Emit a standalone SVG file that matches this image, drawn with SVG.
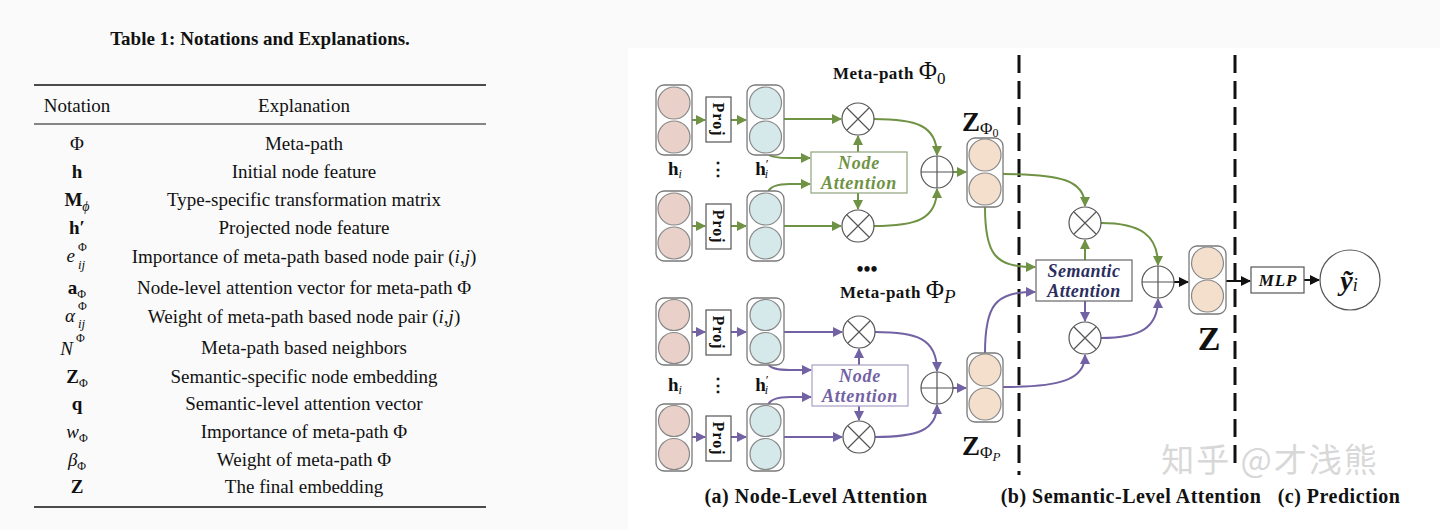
<svg xmlns="http://www.w3.org/2000/svg" width="1440" height="530" viewBox="0 0 1440 530">
<style>
text{font-family:"Liberation Serif","Times New Roman",serif;fill:#111}
.tb{font-size:19px}
.b{font-weight:bold}
.i{font-style:italic}
.nd{fill:#fff;stroke:#7a7a7a;stroke-width:1.3}
.pk{fill:#e9d1c9;stroke:#888;stroke-width:1.2}
.bl{fill:#d5e8ea;stroke:#888;stroke-width:1.2}
.pc{fill:#f4dfcd;stroke:#888;stroke-width:1.2}
.op{fill:#fff;stroke:#555;stroke-width:1.2}
.opl{stroke:#555;stroke-width:1.2}
.proj{fill:#fff;stroke:#555;stroke-width:1.2}
.g{fill:none;stroke:#6f9244;stroke-width:2}
.p{fill:none;stroke:#7262a3;stroke-width:2}
.k{fill:none;stroke:#111;stroke-width:2}
.dash{stroke:#111;stroke-width:3;stroke-dasharray:18 8}
.ga{fill:#fff;stroke:#8fa27a;stroke-width:1.2}
.pa{fill:#fff;stroke:#aaa0c6;stroke-width:1.2}
.sa{fill:#fff;stroke:#666;stroke-width:1.2}
.att{font-size:18px;font-weight:bold;font-style:italic;text-anchor:middle;letter-spacing:0.8px}
.mp{font-size:17px;font-weight:bold;letter-spacing:0.5px}
.cap{font-size:20px;font-weight:bold;letter-spacing:0.5px}
.pj{font-size:16px;font-weight:bold;letter-spacing:1px}
</style>
<defs>
<marker id="ag" viewBox="0 0 10 10" refX="9" refY="5" markerWidth="5" markerHeight="5" orient="auto"><path d="M0,0 L10,5 L0,10 z" fill="#6f9244"/></marker>
<marker id="ap" viewBox="0 0 10 10" refX="9" refY="5" markerWidth="5" markerHeight="5" orient="auto"><path d="M0,0 L10,5 L0,10 z" fill="#7262a3"/></marker>
<marker id="ak" viewBox="0 0 10 10" refX="9" refY="5" markerWidth="5" markerHeight="5" orient="auto"><path d="M0,0 L10,5 L0,10 z" fill="#111"/></marker>
<g id="otimes"><circle r="16" class="op"/><path d="M-11,-11 L11,11 M11,-11 L-11,11" class="opl"/></g>
<g id="oplus"><circle r="16" class="op"/><path d="M-16,0 L16,0 M0,-16 L0,16" class="opl"/></g>
</defs>
<rect width="1440" height="530" fill="#fafafa"/>
<rect x="628" y="48" width="812" height="482" fill="#ffffff"/>

<!-- Table -->
<g id="table">
<text x="260" y="45" text-anchor="middle" class="b" font-size="19">Table 1: Notations and Explanations.</text>
<line x1="34" y1="85" x2="486" y2="85" stroke="#111" stroke-width="1.6"/>
<line x1="34" y1="124" x2="486" y2="124" stroke="#111" stroke-width="1"/>
<line x1="34" y1="507" x2="486" y2="507" stroke="#111" stroke-width="1.6"/>
<text x="77" y="112" class="tb" text-anchor="middle">Notation</text>
<text x="304" y="112" class="tb" text-anchor="middle">Explanation</text>
<g text-anchor="middle">
<text x="77" y="150" class="tb">Φ</text>
<text x="77" y="178" class="tb b">h</text>
<text x="77" y="206" class="tb"><tspan class="b">M</tspan><tspan class="i" font-size="14" dy="5">ϕ</tspan></text>
<text x="77" y="234" class="tb b">h′</text>
<text x="75" y="262" class="tb i" text-anchor="end">e</text>
<text x="78" y="251" font-size="12" text-anchor="start">Φ</text>
<text x="78" y="269" class="i" font-size="13" text-anchor="start">ij</text>
<text x="77" y="294" class="tb"><tspan class="b">a</tspan><tspan font-size="12" dy="4">Φ</tspan></text>
<text x="75" y="322" class="tb i" text-anchor="end">α</text>
<text x="78" y="310" font-size="12" text-anchor="start">Φ</text>
<text x="78" y="328" class="i" font-size="13" text-anchor="start">ij</text>
<text x="73" y="355" class="tb i" text-anchor="end">N</text>
<text x="76" y="342" font-size="12" text-anchor="start">Φ</text>
<text x="77" y="383" class="tb"><tspan class="b">Z</tspan><tspan font-size="12" dy="4">Φ</tspan></text>
<text x="77" y="410" class="tb b">q</text>
<text x="77" y="438" class="tb"><tspan class="i">w</tspan><tspan font-size="12" dy="4">Φ</tspan></text>
<text x="77" y="466" class="tb"><tspan class="i">β</tspan><tspan font-size="12" dy="4">Φ</tspan></text>
<text x="77" y="493" class="tb b">Z</text>
</g>
<g text-anchor="middle">
<text x="304" y="150" class="tb">Meta-path</text>
<text x="304" y="178" class="tb">Initial node feature</text>
<text x="304" y="206" class="tb">Type-specific transformation matrix</text>
<text x="304" y="234" class="tb">Projected node feature</text>
<text x="304" y="263" class="tb">Importance of meta-path based node pair (<tspan class="i">i</tspan>,<tspan class="i">j</tspan>)</text>
<text x="304" y="294" class="tb">Node-level attention vector for meta-path Φ</text>
<text x="304" y="323" class="tb">Weight of meta-path based node pair (<tspan class="i">i</tspan>,<tspan class="i">j</tspan>)</text>
<text x="304" y="354" class="tb">Meta-path based neighbors</text>
<text x="304" y="383" class="tb">Semantic-specific node embedding</text>
<text x="304" y="410" class="tb">Semantic-level attention vector</text>
<text x="304" y="438" class="tb">Importance of meta-path Φ</text>
<text x="304" y="466" class="tb">Weight of meta-path Φ</text>
<text x="304" y="493" class="tb">The final embedding</text>
</g>
</g>

<!-- watermark -->
<text x="1270" y="472" text-anchor="middle" font-size="33" letter-spacing="2" style="font-family:'Noto Sans CJK SC',sans-serif;fill:#d8d8d8">知乎 @才浅熊</text>

<!-- dashed separators -->
<g id="separators">
<line x1="1019" y1="55" x2="1019" y2="475" class="dash"/>
<line x1="1235" y1="55" x2="1235" y2="470" class="dash"/>
</g>

<!-- Connectors -->
<g id="connectors">
<path d="M692,120 L705,120" class="g" marker-end="url(#ag)"/>
<path d="M731,120 L746,120" class="g" marker-end="url(#ag)"/>
<path d="M784,119 L841,119" class="g" marker-end="url(#ag)"/>
<path d="M768,154 Q771,158 790,158 L810,158" class="g" marker-end="url(#ag)"/>
<path d="M768,192 Q771,184 790,184 L810,184" class="g" marker-end="url(#ag)"/>
<path d="M858,152 L858,136" class="g" marker-end="url(#ag)"/>
<path d="M858,193 L858,209" class="g" marker-end="url(#ag)"/>
<path d="M692,226 L705,226" class="g" marker-end="url(#ag)"/>
<path d="M731,226 L746,226" class="g" marker-end="url(#ag)"/>
<path d="M784,226 L841,226" class="g" marker-end="url(#ag)"/>
<path d="M874,119 C915,119 937,125 937,155" class="g" marker-end="url(#ag)"/>
<path d="M874,226 C915,226 937,220 937,189" class="g" marker-end="url(#ag)"/>
<path d="M953,172 L966,172" class="g" marker-end="url(#ag)"/>
<path d="M692,332 L705,332" class="p" marker-end="url(#ap)"/>
<path d="M731,332 L746,332" class="p" marker-end="url(#ap)"/>
<path d="M784,332 L842,332" class="p" marker-end="url(#ap)"/>
<path d="M768,364 Q771,370 790,370 L811,370" class="p" marker-end="url(#ap)"/>
<path d="M768,405 Q771,397 790,397 L811,397" class="p" marker-end="url(#ap)"/>
<path d="M859,365 L859,349" class="p" marker-end="url(#ap)"/>
<path d="M859,406 L859,420" class="p" marker-end="url(#ap)"/>
<path d="M692,437 L705,437" class="p" marker-end="url(#ap)"/>
<path d="M731,437 L746,437" class="p" marker-end="url(#ap)"/>
<path d="M784,437 L842,437" class="p" marker-end="url(#ap)"/>
<path d="M875,332 C916,332 937,338 937,371" class="p" marker-end="url(#ap)"/>
<path d="M875,437 C916,437 937,431 937,405" class="p" marker-end="url(#ap)"/>
<path d="M953,388 L966,388" class="p" marker-end="url(#ap)"/>
<path d="M1003,174 C1060,174 1085,180 1085,206" class="g" marker-end="url(#ag)"/>
<path d="M985,207 C985,255 995,267 1035,267" class="g" marker-end="url(#ag)"/>
<path d="M1085,260 L1085,240" class="g" marker-end="url(#ag)"/>
<path d="M1101,223 C1140,223 1158,235 1158,265" class="g" marker-end="url(#ag)"/>
<path d="M985,353 C985,305 995,292 1035,292" class="p" marker-end="url(#ap)"/>
<path d="M1003,387 C1060,387 1085,380 1085,355" class="p" marker-end="url(#ap)"/>
<path d="M1085,301 L1085,321" class="p" marker-end="url(#ap)"/>
<path d="M1101,338 C1140,338 1158,328 1158,299" class="p" marker-end="url(#ap)"/>
<path d="M1174,282 L1188,282" class="k" marker-end="url(#ak)"/>
<path d="M1226,281 L1250,281" class="k" marker-end="url(#ak)"/>
<path d="M1304,280 L1319,280" class="k" marker-end="url(#ak)"/>
</g>

<!-- green meta-path nodes -->
<g id="h-in-0a"><rect x="656" y="85" width="36" height="70" rx="8" class="nd"/><circle cx="674" cy="103" r="16" class="pk"/><circle cx="674" cy="137" r="16" class="pk"/></g>
<g id="proj-0a"><rect x="706" y="97" width="25" height="45" class="proj"/><text transform="translate(718.5,119.5) rotate(90)" text-anchor="middle" dy="5.5" class="pj">Proj</text></g>
<g id="hp-0a"><rect x="747" y="85" width="37" height="70" rx="8" class="nd"/><circle cx="765.5" cy="103" r="16" class="bl"/><circle cx="765.5" cy="137" r="16" class="bl"/></g>
<g id="h-in-0b"><rect x="656" y="191" width="36" height="70" rx="8" class="nd"/><circle cx="674" cy="209" r="16" class="pk"/><circle cx="674" cy="243" r="16" class="pk"/></g>
<g id="proj-0b"><rect x="706" y="204" width="25" height="45" class="proj"/><text transform="translate(718.5,226.5) rotate(90)" text-anchor="middle" dy="5.5" class="pj">Proj</text></g>
<g id="hp-0b"><rect x="747" y="191" width="37" height="70" rx="8" class="nd"/><circle cx="765.5" cy="209" r="16" class="bl"/><circle cx="765.5" cy="243" r="16" class="bl"/></g>
<g id="labels-0">
<text x="675" y="175" text-anchor="middle" font-size="19" class="b">h<tspan class="i" font-size="12" font-weight="normal" dy="3">i</tspan></text>
<text x="718" y="175" text-anchor="middle" font-size="18" class="b">⋮</text>
<text x="762" y="175" text-anchor="middle" font-size="19" class="b">h<tspan font-size="13" font-weight="normal" dy="-7">′</tspan><tspan class="i" font-size="12" font-weight="normal" dx="-4" dy="10">i</tspan></text>
</g>
<g id="node-att-0"><rect x="811" y="152" width="96" height="41" class="ga"/><text x="859" y="169" class="att" style="fill:#6f9244">Node</text><text x="859" y="189" class="att" style="fill:#6f9244">Attention</text></g>
<use id="mul-0a" href="#otimes" x="858" y="119"/>
<use id="mul-0b" href="#otimes" x="858" y="226"/>
<use id="add-0" href="#oplus" x="937" y="172"/>
<g id="mp-0"><text x="833" y="79" class="mp">Meta-path <tspan font-size="25" font-weight="normal" letter-spacing="0">Φ</tspan><tspan font-size="17" font-weight="normal" dy="5">0</tspan></text></g>
<g id="dots"><text x="867" y="276" text-anchor="middle" font-size="20" class="b">•••</text></g>

<!-- purple meta-path nodes -->
<g id="h-in-Pa"><rect x="656" y="298" width="36" height="67" rx="8" class="nd"/><circle cx="674" cy="315" r="15.5" class="pk"/><circle cx="674" cy="348" r="15.5" class="pk"/></g>
<g id="proj-Pa"><rect x="706" y="310" width="25" height="45" class="proj"/><text transform="translate(718.5,332.5) rotate(90)" text-anchor="middle" dy="5.5" class="pj">Proj</text></g>
<g id="hp-Pa"><rect x="747" y="298" width="37" height="67" rx="8" class="nd"/><circle cx="765.5" cy="315" r="15.5" class="bl"/><circle cx="765.5" cy="348" r="15.5" class="bl"/></g>
<g id="h-in-Pb"><rect x="656" y="404" width="36" height="67" rx="8" class="nd"/><circle cx="674" cy="421" r="15.5" class="pk"/><circle cx="674" cy="454" r="15.5" class="pk"/></g>
<g id="proj-Pb"><rect x="706" y="416" width="25" height="45" class="proj"/><text transform="translate(718.5,438.5) rotate(90)" text-anchor="middle" dy="5.5" class="pj">Proj</text></g>
<g id="hp-Pb"><rect x="747" y="404" width="37" height="67" rx="8" class="nd"/><circle cx="765.5" cy="421" r="15.5" class="bl"/><circle cx="765.5" cy="454" r="15.5" class="bl"/></g>
<g id="labels-P">
<text x="675" y="391" text-anchor="middle" font-size="19" class="b">h<tspan class="i" font-size="12" font-weight="normal" dy="3">i</tspan></text>
<text x="718" y="391" text-anchor="middle" font-size="18" class="b">⋮</text>
<text x="762" y="391" text-anchor="middle" font-size="19" class="b">h<tspan font-size="13" font-weight="normal" dy="-7">′</tspan><tspan class="i" font-size="12" font-weight="normal" dx="-4" dy="10">i</tspan></text>
</g>
<g id="node-att-P"><rect x="812" y="365" width="96" height="41" class="pa"/><text x="860" y="382" class="att" style="fill:#7262a3">Node</text><text x="860" y="402" class="att" style="fill:#7262a3">Attention</text></g>
<use id="mul-Pa" href="#otimes" x="859" y="332"/>
<use id="mul-Pb" href="#otimes" x="859" y="437"/>
<use id="add-P" href="#oplus" x="937" y="388"/>
<g id="mp-P"><text x="840" y="298" class="mp">Meta-path <tspan font-size="25" font-weight="normal" letter-spacing="0">Φ</tspan><tspan font-size="19" class="i" font-weight="normal" dy="5">P</tspan></text></g>

<!-- semantic embeddings -->
<g id="z-phi0"><rect x="967" y="138" width="36" height="69" rx="8" class="nd"/><circle cx="985" cy="155" r="16" class="pc"/><circle cx="985" cy="189" r="16" class="pc"/>
<text x="962" y="131" font-size="27" class="b">Z<tspan font-size="17" font-weight="normal" dy="3">Φ</tspan><tspan font-size="12" font-weight="normal" dy="3">0</tspan></text></g>
<g id="z-phiP"><rect x="967" y="353" width="36" height="69" rx="8" class="nd"/><circle cx="985" cy="370" r="16" class="pc"/><circle cx="985" cy="404" r="16" class="pc"/>
<text x="962" y="455" font-size="27" class="b">Z<tspan font-size="17" font-weight="normal" dy="3">Φ</tspan><tspan font-size="13" class="i" font-weight="normal" dy="3">P</tspan></text></g>
<g id="sem-att"><rect x="1036" y="260" width="96" height="41" class="sa"/><text x="1084" y="277" class="att" style="fill:#2b2d5e;letter-spacing:0.5px">Semantic</text><text x="1084" y="297" class="att" style="fill:#2b2d5e;letter-spacing:0.5px">Attention</text></g>
<use id="mul-S1" href="#otimes" x="1085" y="223"/>
<use id="mul-S2" href="#otimes" x="1085" y="338"/>
<use id="add-S" href="#oplus" x="1158" y="282"/>
<g id="z-final"><rect x="1189" y="246" width="37" height="68" rx="8" class="nd"/><circle cx="1207.5" cy="263" r="16" class="pc"/><circle cx="1207.5" cy="296" r="16" class="pc"/>
<text x="1209" y="350" text-anchor="middle" font-size="34" class="b">Z</text></g>
<g id="mlp"><rect x="1251" y="267" width="53" height="26" class="proj"/><text x="1278" y="286" text-anchor="middle" font-size="17" class="b i" letter-spacing="0.8">MLP</text></g>
<g id="y-out"><circle cx="1350" cy="280" r="30" class="op"/><text x="1349" y="290" text-anchor="middle" font-size="28" class="b i">ỹ<tspan font-size="18" font-weight="normal" dy="1">i</tspan></text></g>

<!-- captions -->
<text x="816" y="503" text-anchor="middle" class="cap">(a) Node-Level Attention</text>
<text x="1131" y="503" text-anchor="middle" class="cap">(b) Semantic-Level Attention</text>
<text x="1339" y="503" text-anchor="middle" class="cap">(c) Prediction</text>
</svg>
